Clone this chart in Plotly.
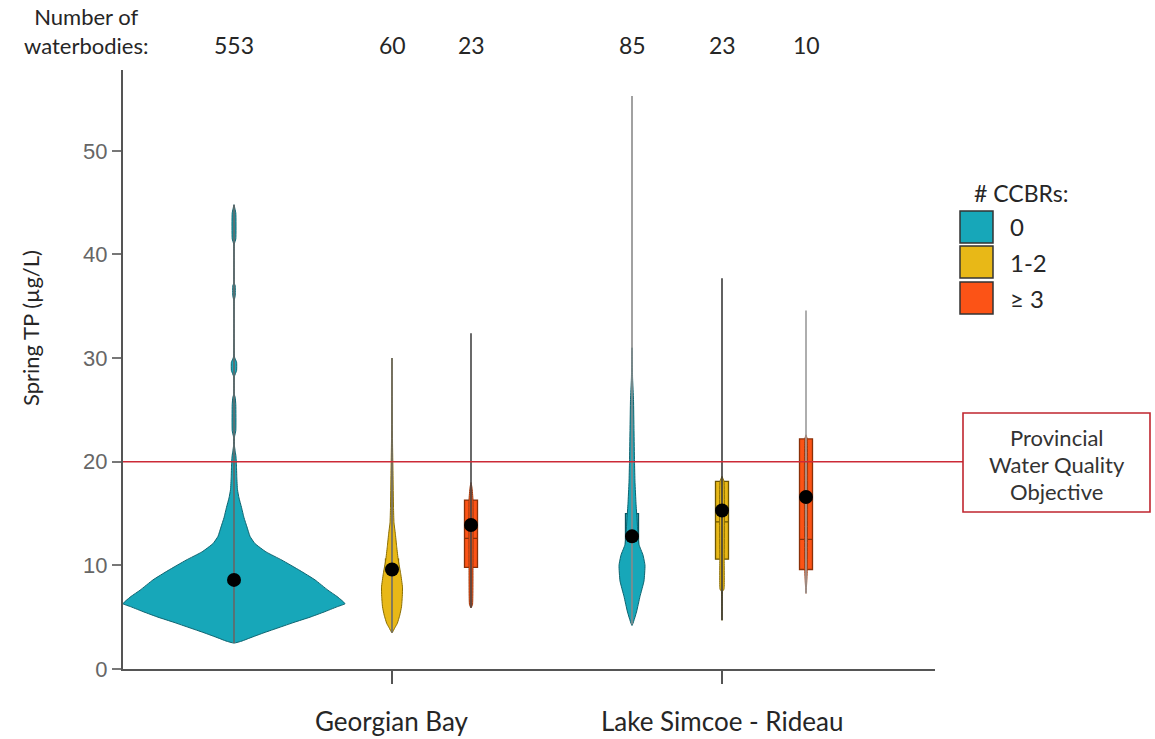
import plotly.graph_objects as go

# ---------------- data ----------------
regions = ["Georgian Bay", "Lake Simcoe - Rideau"]
ccbr_classes = ["0", "1-2", "\u2265 3"]
counts = [553, 60, 23, 85, 23, 10]
group_class = [0, 1, 2, 0, 1, 2]          # index into ccbr_classes
means = [8.6, 9.6, 13.9, 12.8, 15.3, 16.6]
q1s = [5.9, 6.4, 9.8, 8.9, 10.6, 9.6]
medians = [7.6, 7.7, 12.6, 10.5, 14.2, 12.5]
q3s = [9.9, 10.6, 16.3, 15.0, 18.1, 22.2]
mins = [2.5, 3.5, 5.9, 4.3, 4.7, 7.3]
maxs = [44.8, 30.0, 32.4, 55.3, 37.7, 34.6]
pwqo_lines = ["Provincial", "Water Quality", "Objective"]

# violin outlines: TP level and half width
prof_v_gb0 = [2.5, 2.7, 3.0, 3.5, 4.0, 4.5, 5.0, 5.5, 6.0, 6.3, 6.6, 7.0, 7.6, 8.6, 9.5,
              10.5, 11.3, 12.1, 12.8, 13.7, 14.6, 15.6, 16.5, 17.3, 18.5,
              19.5, 20.5, 21.0, 21.5, 22.4, 23.0, 25.5, 26.2, 26.5, 28.2, 28.8, 29.6, 30.1,
              35.6, 36.0, 37.0, 37.2, 41.0, 41.5, 44.0, 44.8]
prof_w_gb0 = [0, 8, 16, 30, 45, 60, 76, 90, 103, 111, 108, 103, 94, 81, 66,
              48, 32, 21, 16, 13, 10, 7.5, 5, 3.5, 2.8,
              2.5, 2.0, 1.2, 0.5, 0.5, 1.8, 1.8, 1.2, 0.3, 0.3, 2.6, 2.6, 0.5,
              0.3, 1.2, 1.2, 0.3, 0.3, 1.8, 1.8, 0]
prof_v_gb12 = [3.5, 4.0, 4.4, 5.2, 6.0, 7.0, 7.9, 9.2, 10.5, 11.8, 13.1, 14.1, 15.6, 18.9,
               22.0, 30.0]
prof_w_gb12 = [0, 3.0, 5.3, 7.8, 9.5, 10.3, 10.5, 8.7, 6.3, 4.7, 3.3, 2.0, 1.5, 1.0,
               0.5, 0]
prof_v_gb3 = [5.9, 6.2, 9.8, 16.3, 17.5, 18.0]
prof_w_gb3 = [0, 1.5, 2.0, 2.0, 1.0, 0]
prof_v_ls0 = [4.2, 5.5, 7.0, 8.5, 10.0, 11.0, 12.0, 13.0, 14.5, 16.0, 18.0, 20.0, 23.0, 26.0,
              28.0, 31.0]
prof_w_ls0 = [0, 4.5, 8.0, 12.0, 13.0, 11.0, 7.0, 6.0, 5.0, 4.0, 3.0, 2.5, 2.0, 1.5,
              0.6, 0]
prof_v_ls12 = [4.7, 7.5, 7.7, 10.6, 18.1, 18.6]
prof_w_ls12 = [0, 0.6, 2.0, 2.2, 2.0, 0]
prof_v_ls3 = [7.3, 9.4, 22.2, 22.6]
prof_w_ls3 = [0, 1.2, 1.2, 0]

profiles_v = [prof_v_gb0, prof_v_gb12, prof_v_gb3, prof_v_ls0, prof_v_ls12, prof_v_ls3]
profiles_w = [prof_w_gb0, prof_w_gb12, prof_w_gb3, prof_w_ls0, prof_w_ls12, prof_w_ls3]

y_ticks = [0, 10, 20, 30, 40, 50]
pwqo = 20

# ---------------- layout / style ----------------
W, H = 1155, 739
PL, PT = 123, 70                      # plot-area corner on the page
PW, PH = 812, 599                     # plot area in px
positions = [111, 269, 348, 509, 599, 683]   # group slots along x (axis units)
region_ticks = [positions[1], positions[4]]
Y_MAX = 57.8

fill_colors = ["#17a7b9", "#e8b817", "#fc5316"]
edge_colors = ["#0d6470", "#8a6d00", "#9a3a10"]
box_edges = ["#0b5560", "#6e5600", "#8a3008", "#0b5560", "#6e5600", "#8a3008"]
whisker_colors = ["#666666", "#6a6a6a", "#444444", "#8a8a8a", "#3a3a3a", "#9a9a9a"]
box_fills = ["#27b2c3", "#e8b817", "#fc5316", "#27b8c9", "#e8b817", "#fc5316"]
box_width = 13

TXT = "Lato"
TXT_COLOR = "#262626"


def fx(px):
    return (px - PL) / PW


def fy(py):
    return (PT + PH - py) / PH


fig = go.Figure()

for i, pos in enumerate(positions):
    c = group_class[i]
    vs, ws = profiles_v[i], profiles_w[i]
    xs = [pos + w for w in ws] + [pos - w for w in reversed(ws)]
    ys = list(vs) + list(reversed(vs))
    fig.add_trace(go.Scatter(x=xs, y=ys, mode="lines", fill="toself",
                             fillcolor=fill_colors[c],
                             line=dict(color=edge_colors[c], width=1, shape="spline",
                                       smoothing=0.4),
                             hoverinfo="skip", showlegend=False))
    fig.add_trace(go.Scatter(x=[pos, pos], y=[mins[i], maxs[i]], mode="lines",
                             line=dict(color=whisker_colors[i], width=1.6),
                             hoverinfo="skip", showlegend=False))
    fig.add_trace(go.Box(x=[pos], q1=[q1s[i]], median=[medians[i]], q3=[q3s[i]],
                         lowerfence=[q1s[i]], upperfence=[q3s[i]],
                         width=box_width, whiskerwidth=0,
                         fillcolor=box_fills[i],
                         line=dict(color=box_edges[i], width=1.3),
                         boxpoints=False, hoverinfo="skip", showlegend=False))
    fig.add_trace(go.Scatter(x=[pos], y=[means[i]], mode="markers",
                             marker=dict(color="black", size=14),
                             hoverinfo="skip", showlegend=False))

shapes = []
annotations = []

# PWQO line and box
box_x0, box_x1 = fx(963), fx(1150)
shapes.append(dict(type="line", xref="paper", yref="y", x0=0, x1=box_x0, y0=pwqo, y1=pwqo,
                   line=dict(color="#cc2a36", width=1.6), layer="above"))
shapes.append(dict(type="rect", xref="paper", yref="paper", x0=box_x0, x1=box_x1,
                   y0=fy(512), y1=fy(413), fillcolor="white",
                   line=dict(color="#c0262f", width=1.6)))
for k, (txt, py) in enumerate(zip(pwqo_lines, [437, 464, 491])):
    annotations.append(dict(xref="paper", yref="paper", x=(box_x0 + box_x1) / 2, y=fy(py),
                            text=txt, showarrow=False, xanchor="center", yanchor="middle",
                            font=dict(family=TXT, size=22, color="#333333")))

# legend (custom)
annotations.append(dict(xref="paper", yref="paper", x=fx(1021), y=fy(193), text="# CCBRs:",
                        showarrow=False, xanchor="center", yanchor="middle",
                        font=dict(family=TXT, size=23, color=TXT_COLOR)))
row_tops = [211, 246, 282]
for k, lab in enumerate(ccbr_classes):
    top = row_tops[k]
    shapes.append(dict(type="rect", xref="paper", yref="paper", x0=fx(960), x1=fx(993),
                       y0=fy(top + 32), y1=fy(top), fillcolor=fill_colors[k],
                       line=dict(color="#333333", width=1.5)))
    annotations.append(dict(xref="paper", yref="paper", x=fx(1008), y=fy(top + 16),
                            text=lab, showarrow=False, xanchor="left", yanchor="middle",
                            font=dict(family=TXT, size=24, color=TXT_COLOR)))

# counts header
annotations.append(dict(xref="paper", yref="paper", x=fx(86), y=fy(31),
                        text="Number of<br>waterbodies:", showarrow=False,
                        xanchor="center", yanchor="middle", align="center",
                        font=dict(family=TXT, size=22, color=TXT_COLOR)))
for i, pos in enumerate(positions):
    annotations.append(dict(xref="x", yref="paper", x=pos, y=fy(45), text=str(counts[i]),
                            showarrow=False, xanchor="center", yanchor="middle",
                            font=dict(family=TXT, size=23, color=TXT_COLOR)))

# region labels
for r, tx in zip(regions, region_ticks):
    annotations.append(dict(xref="x", yref="paper", x=tx, y=fy(721), text=r,
                            showarrow=False, xanchor="center", yanchor="middle",
                            font=dict(family=TXT, size=26, color=TXT_COLOR)))

# y title
annotations.append(dict(xref="paper", yref="paper", x=fx(30), y=fy(328),
                        text="Spring TP (\u00b5g/L)", textangle=-90, showarrow=False,
                        xanchor="center", yanchor="middle",
                        font=dict(family=TXT, size=22, color=TXT_COLOR)))

fig.update_layout(
    width=W, height=H,
    margin=dict(l=PL, r=W - PL - PW, t=PT, b=H - PT - PH),
    plot_bgcolor="white", paper_bgcolor="white",
    showlegend=False,
    shapes=shapes, annotations=annotations,
    xaxis=dict(range=[0, PW], showline=True, linecolor="#555555", linewidth=2,
               ticks="outside", tickvals=region_ticks, ticklen=13, tickwidth=1.5,
               tickcolor="#555555", showticklabels=False, showgrid=False, zeroline=False,
               fixedrange=True),
    yaxis=dict(range=[0, Y_MAX], showline=True, linecolor="#555555", linewidth=2,
               ticks="outside", tickvals=y_ticks, ticklen=9, tickwidth=1.5,
               tickcolor="#777777", showgrid=False, zeroline=False,
               tickfont=dict(family="Liberation Sans", size=22, color="#666666"),
               fixedrange=True),
)

fig.write_html("out.html", config={"displayModeBar": False},
               post_script="document.body.style.margin='0px';")
